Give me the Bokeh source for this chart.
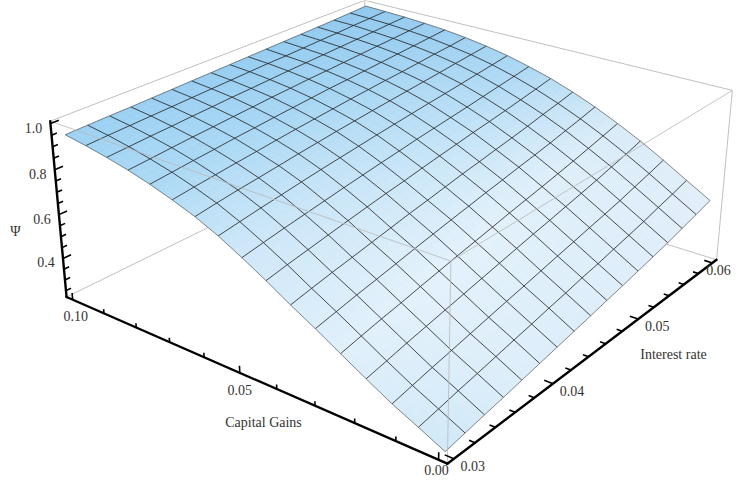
import numpy as np
from bokeh.plotting import figure
from bokeh.models import Range1d
from bokeh.core.properties import value
from bokeh.embed import file_html
from bokeh.resources import INLINE

# ---------- data ----------
capital_gains = [i * 0.00625 for i in range(17)]          # mesh lines, 0.00 .. 0.10
interest_rate = [0.03 + j * 0.001875 for j in range(17)]  # mesh lines, 0.03 .. 0.06
psi = [
 [.234,.250,.266,.281,.297,.313,.329,.345,.361,.378,.394,.411,.428,.446,.466,.486,.508],
 [.287,.304,.322,.338,.355,.372,.388,.406,.422,.440,.455,.473,.490,.508,.529,.548,.570],
 [.338,.357,.376,.393,.411,.429,.447,.464,.482,.500,.517,.535,.552,.570,.591,.611,.633],
 [.397,.416,.436,.454,.472,.490,.508,.526,.544,.562,.578,.596,.613,.631,.651,.670,.692],
 [.458,.478,.497,.514,.533,.551,.569,.586,.603,.621,.637,.653,.670,.687,.706,.725,.745],
 [.520,.539,.558,.575,.593,.611,.628,.645,.661,.678,.693,.709,.724,.740,.758,.775,.794],
 [.578,.597,.615,.631,.648,.665,.682,.697,.713,.729,.743,.758,.772,.787,.804,.819,.836],
 [.640,.658,.674,.690,.706,.721,.736,.749,.764,.778,.791,.805,.817,.830,.844,.858,.873],
 [.698,.714,.729,.743,.757,.771,.784,.797,.809,.822,.833,.844,.855,.867,.879,.891,.903],
 [.752,.766,.780,.792,.805,.817,.828,.839,.850,.860,.870,.880,.889,.899,.909,.919,.929],
 [.797,.810,.822,.832,.843,.854,.864,.874,.883,.892,.900,.908,.916,.924,.933,.941,.949],
 [.833,.844,.854,.864,.873,.883,.892,.900,.908,.916,.923,.930,.936,.943,.951,.957,.965],
 [.865,.874,.883,.891,.900,.907,.915,.922,.929,.936,.941,.947,.953,.959,.965,.971,.977],
 [.892,.899,.907,.914,.920,.927,.933,.940,.945,.951,.955,.960,.965,.970,.975,.980,.985],
 [.914,.920,.926,.931,.937,.942,.948,.952,.957,.962,.966,.970,.974,.978,.982,.987,.991],
 [.933,.938,.942,.946,.950,.954,.958,.962,.966,.970,.972,.976,.980,.983,.988,.991,.995],
 [.949,.952,.955,.957,.960,.963,.966,.969,.972,.975,.978,.981,.984,.987,.990,.994,.998],
]
shade = [
 ["#D0E8F8", "#DDEEFA", "#DDEEFA", "#DFEEFA", "#E3EFFA"],
 ["#E0F0FB", "#E3F1FB", "#E2F1FB", "#DFEFFA", "#D8EBF8"],
 ["#D0E8F9", "#CBE6F8", "#C2E3F7", "#B8DEF6", "#ACD8F4"],
 ["#ABD9F5", "#A9D8F5", "#A5D5F3", "#A0D2F2", "#9ACEF0"],
 ["#9DD2F3", "#9ACFF2", "#96CDF1", "#93CBF0", "#8FC8EE"],
]
g_ticks = [0.00, 0.01, 0.02, 0.03, 0.04, 0.05, 0.06, 0.07, 0.08, 0.09, 0.10]
g_major = [0.00, 0.05, 0.10]
g_labels = ["0.00", "0.05", "0.10"]
r_ticks = [0.03 + k * 0.002 for k in range(16)]
r_major = [0.03, 0.04, 0.05, 0.06]
r_labels = ["0.03", "0.04", "0.05", "0.06"]
z_ticks = [0.25 + k * 0.05 for k in range(16)]
z_major = [0.4, 0.6, 0.8, 1.0]
z_labels = ["0.4", "0.6", "0.8", "1.0"]

# ---------- camera: projective matrix fitted to the box corners of the picture ----------
m = [-367.6784, 451.3655, -22.458, 446.8654,
     -107.8173, -137.9324, -217.6855, 463.1991,
     0.1985, 0.2544, -0.0577]
Z_LO, Z_HI = 0.22, 1.01

def proj(u, v, w):
    d = m[8]*u + m[9]*v + m[10]*w + 1
    return ((m[0]*u + m[1]*v + m[2]*w + m[3]) / d,
            (m[4]*u + m[5]*v + m[6]*w + m[7]) / d)

def U(g): return (g / 0.10 + 0.02) / 1.04
def V(r): return ((r - 0.03) / 0.03 + 0.02) / 1.04
def W(z): return (z - Z_LO) / (Z_HI - Z_LO)

def hex2rgb(h): return np.array([int(h[k:k+2], 16) for k in (1,3,5)], float)
shade_rgb = np.array([[hex2rgb(c) for c in row] for row in shade])

def colour(fi, fj):
    a, c = min(int(fi), 3), min(int(fj), 3)
    s, t = fi - a, fj - c
    rgb = (shade_rgb[a,c]*(1-s)*(1-t) + shade_rgb[a+1,c]*s*(1-t)
           + shade_rgb[a,c+1]*(1-s)*t + shade_rgb[a+1,c+1]*s*t)
    return "#%02x%02x%02x" % tuple(int(round(q)) for q in rgb)

psi_arr = np.array(psi)
n = len(capital_gains)
us = [U(g) for g in capital_gains]
vs = [V(r) for r in interest_rate]

p = figure(width=735, height=478, x_range=Range1d(0, 735), y_range=Range1d(478, 0),
           output_backend="svg", toolbar_location=None, min_border=0)
p.axis.visible = False
p.grid.visible = False
p.outline_line_color = None
p.background_fill_color = "white"
p.border_fill_color = "white"

def seg(a, b):
    return [list(t) for t in zip(proj(*a), proj(*b))]

GRAY = "#b9b9b9"
# back edges of the box (behind the surface)
back = [((1,1,1),(1,0,1)), ((1,1,1),(0,1,1)), ((0,1,1),(0,1,0)),
        ((1,0,0),(1,1,0)), ((1,1,0),(0,1,0)), ((1,1,0),(1,1,1))]
sb = [seg(a,b) for a,b in back]
p.multi_line([s[0] for s in sb], [s[1] for s in sb], line_color=GRAY, line_width=0.9)

# surface, finely shaded
SUB = 3
pxs, pys, cols = [], [], []
for i in range(n-1):
    for j in range(n-1):
        for a in range(SUB):
            for c in range(SUB):
                corners = [(a,c),(a+1,c),(a+1,c+1),(a,c+1)]
                xs, ys = [], []
                for (aa,cc) in corners:
                    s, t = aa/SUB, cc/SUB
                    uu = us[i] + (us[i+1]-us[i])*s
                    vv = vs[j] + (vs[j+1]-vs[j])*t
                    zz = (psi_arr[i,j]*(1-s)*(1-t) + psi_arr[i+1,j]*s*(1-t)
                          + psi_arr[i,j+1]*(1-s)*t + psi_arr[i+1,j+1]*s*t)
                    x, y = proj(uu, vv, W(zz))
                    xs.append(x); ys.append(y)
                pxs.append(xs); pys.append(ys)
                cols.append(colour((i+(a+.5)/SUB)/4, (j+(c+.5)/SUB)/4))
p.patches(pxs, pys, fill_color=cols, line_color=cols, line_width=0.5)

# mesh
def polyline(pts):
    q = [proj(*t) for t in pts]
    return [a for a,_ in q], [b for _,b in q]

inner_x, inner_y, outer_x, outer_y = [], [], [], []
for i in range(n):
    lx, ly = polyline([(us[i], vs[j], W(psi[i][j])) for j in range(n)])
    (outer_x if i in (0, n-1) else inner_x).append(lx)
    (outer_y if i in (0, n-1) else inner_y).append(ly)
for j in range(n):
    lx, ly = polyline([(us[i], vs[j], W(psi[i][j])) for i in range(n)])
    (outer_x if j in (0, n-1) else inner_x).append(lx)
    (outer_y if j in (0, n-1) else inner_y).append(ly)
p.multi_line(inner_x, inner_y, line_color="#222222", line_alpha=0.9, line_width=0.9)
p.multi_line(outer_x, outer_y, line_color="#5a5a5a", line_alpha=0.9, line_width=0.8)

# front edges of the box, over the surface
front = [((1,0,1),(0,0,1)), ((0,0,1),(0,1,1)), ((0,0,1),(0,0,0))]
sf = [seg(a,b) for a,b in front]
p.multi_line([s[0] for s in sf], [s[1] for s in sf], line_color=GRAY, line_alpha=0.9, line_width=0.9)

# heavy axes
axes = [((1,0,1),(1,0,0)), ((1,0,0),(0,0,0)), ((0,0,0),(0,1,0))]
sa = [seg(a,b) for a,b in axes]
p.multi_line([s[0] for s in sa], [s[1] for s in sa], line_color="black", line_width=2.4, line_cap="round")

# ticks
tx, ty = [], []
for g in g_ticks:
    L = 0.04 if any(abs(g-q) < 1e-9 for q in g_major) else 0.025
    s = seg((U(g),0,0),(U(g),0,L)); tx.append(s[0]); ty.append(s[1])
for r in r_ticks:
    L = 0.02 if any(abs(r-q) < 1e-9 for q in r_major) else 0.013
    s = seg((0,V(r),0),(L,V(r),0)); tx.append(s[0]); ty.append(s[1])
for z in z_ticks:
    L = 0.022 if any(abs(z-q) < 1e-9 for q in z_major) else 0.014
    s = seg((1,0,W(z)),(1,L,W(z))); tx.append(s[0]); ty.append(s[1])
p.multi_line(tx, ty, line_color="black", line_width=1.6)

# text
FONT = value("Liberation Serif")
SIZE = value("14px")
INK = "#333333"
def label(xs, ys, texts):
    p.text(xs, ys, text=texts, text_font=FONT, text_font_size=SIZE, text_color=INK,
           text_align="center", text_baseline="middle")

q = [proj(1, 0, W(z)) for z in z_major]
label([a-17 for a,_ in q], [b+4 for _,b in q], z_labels)
q = [proj(U(g), 0, 0) for g in g_major]
label([a+d for (a,_),d in zip(q,(-2,0,3))], [b+dy for (_,b),dy in zip(q,(10,17,16))], g_labels)
q = [proj(0, V(r), 0) for r in r_major]
label([a+d for (a,_),d in zip(q,(19,19,19,6))], [b+7 for _,b in q], r_labels)
label([263], [422], ["Capital Gains"])
label([673], [354], ["Interest rate"])
label([15], [231], ["\u03a8"])

open("out.html", "w").write(file_html(p, INLINE))
